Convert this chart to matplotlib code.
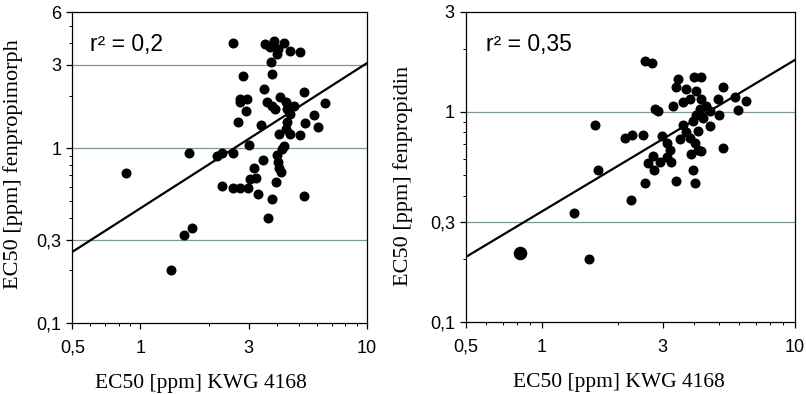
import numpy as np
import matplotlib
matplotlib.use("Agg")
import matplotlib.pyplot as plt
from matplotlib.ticker import FixedLocator, LogLocator, NullFormatter

# EC50 KWG 4168 (x) vs. fenpropimorph (y)
kwg_a = [2.56, 3.54, 3.90, 4.32, 3.72, 4.05, 4.56, 5.08, 3.77, 4.01,
         2.83, 3.81, 3.50, 5.26, 2.76, 2.96, 2.76, 2.91, 3.62, 3.81,
         3.94, 4.15, 4.37, 4.44, 4.75, 4.59, 6.55, 5.82, 5.35, 6.06,
         2.69, 3.42, 4.08, 4.59, 5.08, 4.44, 4.40, 3.00, 4.32, 4.22,
         4.01, 1.63, 2.18, 2.29, 2.55, 3.47, 4.05, 4.08, 4.19, 3.16,
         3.25, 3.04, 0.86, 2.29, 2.55, 2.74, 2.98, 3.30, 3.98, 3.81,
         5.26, 3.65, 1.68, 1.55, 1.36]
fenpropimorph = [4.00, 3.94, 4.10, 4.01, 3.80, 3.72, 3.60, 3.56, 3.11, 3.48,
                 2.59, 2.67, 2.19, 2.09, 1.92, 1.92, 1.83, 1.64, 1.83, 1.75,
                 1.68, 1.96, 1.83, 1.68, 1.75, 1.57, 1.82, 1.54, 1.39, 1.33,
                 1.42, 1.36, 1.20, 1.20, 1.19, 1.41, 1.29, 1.05, 1.03, 0.99,
                 0.92, 0.94, 0.90, 0.94, 0.94, 0.86, 0.83, 0.77, 0.73, 0.77,
                 0.68, 0.67, 0.72, 0.61, 0.59, 0.59, 0.59, 0.55, 0.64, 0.51,
                 0.53, 0.40, 0.35, 0.32, 0.20]

# EC50 KWG 4168 (x) vs. fenpropidin (y)
kwg_b = [2.55, 2.73, 3.45, 3.98, 4.27, 3.38, 3.70, 4.06, 5.20, 5.79,
         6.44, 4.97, 3.30, 3.61, 3.84, 4.27, 4.47, 4.61, 4.21, 4.06,
         4.34, 5.01, 5.97, 2.79, 2.88, 1.62, 2.14, 2.28, 2.51, 3.61,
         3.96, 4.61, 4.14, 3.73, 2.98, 3.11, 3.51, 3.84, 4.02, 3.20,
         4.14, 4.27, 3.89, 5.20, 2.75, 2.63, 2.93, 3.11, 3.25, 2.77,
         1.67, 3.96, 2.55, 3.40, 4.02, 2.26, 1.34, 1.53]
fenpropidin = [1.75, 1.72, 1.43, 1.46, 1.46, 1.32, 1.28, 1.26, 1.31, 1.18,
               1.13, 1.15, 1.07, 1.11, 1.15, 1.15, 1.07, 1.01, 1.03, 0.97,
               0.94, 0.97, 1.02, 1.03, 1.01, 0.87, 0.75, 0.78, 0.78, 0.87,
               0.91, 0.86, 0.81, 0.80, 0.77, 0.71, 0.74, 0.75, 0.71, 0.66,
               0.66, 0.65, 0.63, 0.67, 0.62, 0.57, 0.58, 0.61, 0.58, 0.53,
               0.53, 0.53, 0.46, 0.47, 0.46, 0.38, 0.33, 0.20]
big_point = ([0.82], [0.213])

# power-law fits y = a * x^b
fit_a = (0.454, 0.83)
fit_b = (0.336, 0.721)

plt.rcParams["font.family"] = ["Liberation Sans", "DejaVu Sans"]

fig = plt.figure(figsize=(8.06, 3.94), dpi=100)
ax1 = fig.add_axes([0.0897, 0.180, 0.3656, 0.789])
ax2 = fig.add_axes([0.578, 0.183, 0.408, 0.787])


def style(ax, ymax, yticks, ylab, r2, xlab_pos, ylab_pos):
    ax.set_xscale("log")
    ax.set_yscale("log")
    ax.set_xlim(0.5, 10)
    ax.set_ylim(0.1, ymax)
    for g in [0.3, 1, 3]:
        if g < ymax:
            ax.axhline(g, color="#7d979c", lw=0.9, zorder=1)
    ax.xaxis.set_major_locator(FixedLocator([0.5, 1, 3, 10]))
    ax.set_xticklabels(["0,5", "1", "3", "10"])
    ax.yaxis.set_major_locator(FixedLocator(yticks))
    ax.set_yticklabels([str(t).replace(".", ",") for t in yticks])
    ax.xaxis.set_minor_locator(LogLocator(subs=np.arange(2, 10)))
    ax.yaxis.set_minor_locator(LogLocator(subs=np.arange(2, 10)))
    ax.xaxis.set_minor_formatter(NullFormatter())
    ax.yaxis.set_minor_formatter(NullFormatter())
    ax.tick_params(which="major", length=4, width=0.9, labelsize=13)
    ax.tick_params(axis="x", which="major", pad=8)
    ax.tick_params(axis="y", which="major", pad=4)
    ax.tick_params(which="minor", length=2.5, width=0.7)
    for s in ax.spines.values():
        s.set_linewidth(0.9)
    ax.set_xlabel("EC50 [ppm] KWG 4168", family="Liberation Serif",
                  fontsize=15.5)
    ax.xaxis.set_label_coords(xlab_pos, -0.165)
    ax.set_ylabel(ylab, family="Liberation Serif", fontsize=16)
    ax.yaxis.set_label_coords(*ylab_pos)
    ax.text(0.06, 0.895, r2, transform=ax.transAxes, fontsize=16.5,
            va="center", ha="left")


xs = np.array([0.5, 10])
ax1.scatter(kwg_a, fenpropimorph, s=52, color="black", zorder=3, linewidths=0)
ax1.plot(xs, fit_a[0] * xs ** fit_a[1], color="black", lw=1.6, zorder=2)
style(ax1, 6, [0.1, 0.3, 1, 3, 6], "EC50 [ppm] fenpropimorph", "r² = 0,2",
      0.437, (-0.168, 0.51))

ax2.scatter(kwg_b, fenpropidin, s=52, color="black", zorder=3, linewidths=0)
ax2.scatter(*big_point, s=95, color="black", zorder=3, linewidths=0)
ax2.plot(xs, fit_b[0] * xs ** fit_b[1], color="black", lw=1.6, zorder=2)
style(ax2, 3, [0.1, 0.3, 1, 3], "EC50 [ppm] fenpropidin", "r² = 0,35",
      0.465, (-0.16, 0.47))

plt.savefig("out.png", dpi=100)
